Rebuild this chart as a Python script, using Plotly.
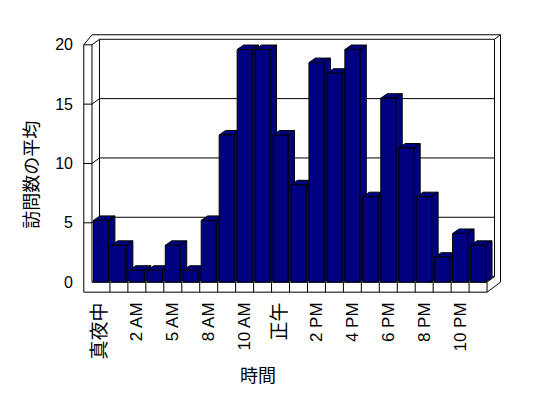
import plotly.graph_objects as go

# ---- data ----
hours = ["真夜中", "1 AM", "2 AM", "3 AM", "5 AM", "6 AM", "8 AM", "9 AM", "10 AM", "11 AM",
         "正午", "1 PM", "2 PM", "3 PM", "4 PM", "5 PM", "6 PM", "7 PM", "8 PM", "9 PM",
         "10 PM", "11 PM"]
avg_visits = [5.2, 3.1, 1.0, 1.0, 3.1, 1.0, 5.2, 12.4, 19.6, 19.6, 12.4, 8.2,
              18.5, 17.6, 19.6, 7.2, 15.5, 11.3, 7.2, 2.1, 4.1, 3.1]
y_ticks = [0, 5, 10, 15, 20]
x_title = "時間"
y_title = "訪問数の平均"

# ---- style / geometry constants ----
NAVY = "#000080"
FONT = "Liberation Sans, Noto Sans CJK JP, sans-serif"
n = len(hours)
XR = [-1.0, 22.5]
YR = [-1.0, 21.5]
HALF = 0.417          # half bar width (category units)
BDX, BDY = 0.36, 0.38  # bar depth offset
S1X, S1Y = 0.417, 0.465  # inner back wall offset
S2X, S2Y = 0.75, 0.845   # outer back wall offset
L_OUT, L_IN = -0.956, -0.5
R_FR = n - 0.5
FB = -0.845
VTOP = max(y_ticks)

# page layout (browser body has an 8px margin)
BODY = 8
W, H = 548 - BODY, 398 - BODY
PX, PY = 18.0, 11.83
X0, Y0 = 100.5, 281.7   # page pixel of category 0 / value 0

fig = go.Figure()

def poly(xs, ys, fill=None):
    fig.add_trace(go.Scatter(
        x=xs, y=ys, mode="lines", xaxis="x", yaxis="y",
        line=dict(color="black", width=1),
        fill="toself" if fill else None, fillcolor=fill,
        hoverinfo="skip", showlegend=False))

# frame: front slab of floor + left wall
poly([L_OUT, L_OUT, L_IN, L_IN, R_FR, R_FR, L_OUT],
     [FB, VTOP, VTOP, 0, 0, FB, FB])
# left wall top (outer) and back wall outer top / right
poly([L_OUT, L_IN, R_FR + S2X, R_FR + S2X, R_FR],
     [VTOP, VTOP + S2Y, VTOP + S2Y, FB + S2Y, FB])
# inner edges of back wall
poly([L_IN, L_IN + S1X, R_FR + S1X, R_FR + S1X, R_FR],
     [VTOP, VTOP + S1Y, VTOP + S1Y, S1Y, 0])
poly([R_FR + S1X, R_FR + S2X], [VTOP + S1Y, VTOP + S2Y])
# back wall left edge & floor back edge
poly([L_IN + S1X, L_IN + S1X, R_FR + S1X], [VTOP + S1Y, S1Y, S1Y])
poly([L_IN, L_IN + S1X], [0, S1Y])
# gridlines on back and left wall
for v in y_ticks[1:-1]:
    poly([L_OUT, L_IN, L_IN + S1X, R_FR + S1X], [v, v, v + S1Y, v + S1Y])
# floor front category dividers
for k in range(1, n):
    poly([k - 0.5, k - 0.5], [0, FB])

# bar tops and sides (drawn left to right)
for i, v in enumerate(avg_visits):
    a = i + HALF
    xs = [i - HALF, i + HALF, i + HALF + BDX, i - HALF + BDX, i - HALF, None,
          a, a + BDX, a + BDX, a, a]
    ys = [v, v, v + BDY, v + BDY, v, None,
          0, BDY, v + BDY, v, 0]
    poly(xs, ys, fill=NAVY)

# bar front faces on an overlaying axis pair so they sit above the depth faces
fig.add_trace(go.Bar(
    x=list(range(n)), y=avg_visits, width=2 * HALF,
    xaxis="x2", yaxis="y2",
    marker=dict(color=NAVY, line=dict(color="black", width=1)),
    hovertext=hours, hoverinfo="text+y", showlegend=False))

def lab(t):
    if any(ord(ch) > 0x2e80 for ch in t):
        return '<span style="font-size:19px">' + t + '</span>'
    return t

# plot area in page pixels
p_left = X0 + PX * XR[0]
p_right = X0 + PX * XR[1]
p_top = Y0 - PY * YR[1]
p_bot = Y0 - PY * YR[0]
ml = p_left - BODY
mr = W - (p_right - BODY)
mt = p_top - BODY
mb = H - (p_bot - BODY)

def paper_x(px):
    return (px - p_left) / (p_right - p_left)

def paper_y(py):
    return (p_bot - py) / (p_bot - p_top)

fig.update_layout(
    width=W, height=H,
    margin=dict(l=ml, r=mr, t=mt, b=mb, pad=0, autoexpand=False),
    paper_bgcolor="white", plot_bgcolor="white",
    font=dict(family=FONT, size=16, color="black"),
    showlegend=False,
    xaxis=dict(range=XR, showgrid=False, zeroline=False, showline=False,
               tickmode="array", tickvals=list(range(0, n, 2)),
               ticktext=[lab(h) for h in hours[::2]],
               tickfont=dict(size=17),
               tickangle=-90, ticks="", ticklabelstandoff=4, fixedrange=True),
    yaxis=dict(range=YR, showgrid=False, zeroline=False, showline=False,
               tickmode="array", tickvals=y_ticks, ticks="",
               ticklabelstandoff=9, fixedrange=True),
    xaxis2=dict(range=XR, overlaying="x", visible=False, fixedrange=True),
    yaxis2=dict(range=YR, overlaying="y", visible=False, fixedrange=True),
    annotations=[
        dict(text=x_title, xref="paper", yref="paper",
             x=paper_x(258), y=paper_y(375), xanchor="center", yanchor="middle",
             showarrow=False, font=dict(size=18, family=FONT)),
        dict(text=y_title, xref="paper", yref="paper", textangle=-90,
             x=paper_x(31), y=paper_y(175), xanchor="center", yanchor="middle",
             showarrow=False, font=dict(size=18, family=FONT)),
    ],
)

fig.write_html("out.html")
